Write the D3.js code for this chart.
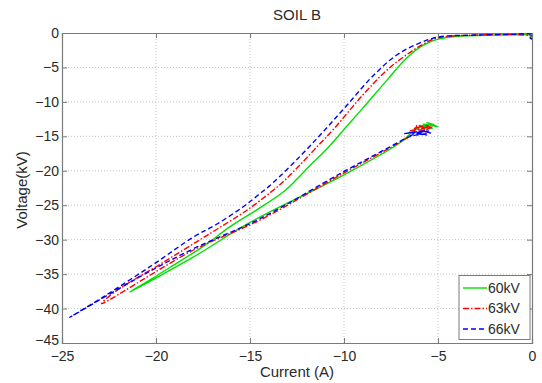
<!DOCTYPE html>
<html><head><meta charset="utf-8">
<script src="https://cdn.jsdelivr.net/npm/d3@7"></script>
<style>body{margin:0;background:#fff}svg{display:block}text{font-family:"Liberation Sans",Arial,sans-serif;fill:#2a2a2a}</style>
</head><body><svg id="c" width="542" height="383"></svg>
<script>
const title = "SOIL B";
const xLabel = "Current (A)";
const yLabel = "Voltage(kV)";
const xTicks = [-25,-20,-15,-10,-5,0];
const yTicks = [0,-5,-10,-15,-20,-25,-30,-35,-40,-45];
const seriesNames = ["60kV","63kV","66kV"];

// 60kV : cluster -> lower branch -> tip -> upper branch
const current60 = [-5.2,-5.6,-5.0,-5.8,-5.3,-6.0,-5.5,-6.2,-7.0,-10.0,-15.0,-18.0,-21.4,-20.3,-19.25,-17.5,-16.0,-14.6,-13.2,-12.5,-11.8,-10.9,-10.0,-9.0,-7.7,-6.65,-5.8,-5.0,-4.0,-2.0,-0.5,-0.1,0.0];
const voltage60 = [-13.3,-13.0,-13.6,-13.2,-13.9,-13.5,-13.4,-14.0,-15.9,-20.6,-27.5,-32.5,-37.6,-35.8,-34.0,-31.0,-28.0,-25.6,-23.0,-21.2,-19.2,-16.8,-14.0,-10.9,-6.8,-3.6,-1.8,-0.9,-0.5,-0.3,-0.25,-0.3,-1.0];

const current63 = [-6.5,-5.3,-6.0,-5.5,-6.3,-5.6,-6.1,-6.3,-7.0,-10.0,-14.5,-18.0,-22.9,-22.2,-19.8,-17.3,-15.2,-14.5,-13.4,-12.5,-11.6,-10.5,-9.0,-7.55,-5.9,-5.0,-3.0,-1.0,0.0];
const voltage63 = [-14.2,-13.6,-14.4,-13.5,-13.9,-14.1,-13.4,-14.5,-15.8,-20.3,-27.2,-31.5,-39.3,-37.6,-33.6,-29.4,-25.8,-24.4,-22.0,-19.6,-17.0,-13.8,-9.0,-5.0,-1.8,-0.7,-0.3,-0.2,-0.4];

const current66 = [-6.8,-5.5,-6.5,-5.4,-6.2,-5.6,-6.6,-6.3,-7.0,-10.0,-14.5,-18.0,-21.0,-24.6,-22.8,-20.2,-18.0,-16.8,-15.4,-14.6,-13.8,-12.3,-11.0,-9.85,-8.45,-7.2,-6.1,-5.0,-3.0,-1.0,-0.4,0.0,-0.1,0.0];
const voltage66 = [-14.6,-14.2,-14.9,-14.5,-14.3,-14.8,-14.4,-14.6,-15.7,-20.1,-27.0,-31.3,-35.6,-41.3,-38.3,-33.7,-29.6,-27.8,-25.3,-23.6,-21.8,-17.8,-14.0,-10.5,-6.2,-3.2,-1.6,-0.6,-0.3,-0.2,-0.1,-0.2,-0.7,-0.9];

const colors = ["#00e000","#ff0000","#0000ff"];
const dashes = [null,"6,2,1.5,2","5,3"];

const svg = d3.select("#c");
const L=62,R=532,T=33,B=343;
const x = d3.scaleLinear().domain([-25,0]).range([L,R]);
const y = d3.scaleLinear().domain([-45,0]).range([B,T]);

// grid
const g = svg.append("g");
g.selectAll(".gx").data(xTicks.slice(1,-1)).enter().append("line")
 .attr("x1",d=>x(d)).attr("x2",d=>x(d)).attr("y1",T).attr("y2",B)
 .attr("stroke","#c4c4c4").attr("stroke-dasharray","1,2");
g.selectAll(".gy").data(yTicks.slice(1,-1)).enter().append("line")
 .attr("y1",d=>y(d)).attr("y2",d=>y(d)).attr("x1",L).attr("x2",R)
 .attr("stroke","#c4c4c4").attr("stroke-dasharray","1,2");

// axes
const axB = d3.axisBottom(x).tickValues(xTicks).tickSize(-5).tickPadding(8).tickFormat(d3.format("d"));
const axL = d3.axisLeft(y).tickValues(yTicks).tickSize(-5).tickPadding(3).tickFormat(d3.format("d"));
const axT = d3.axisTop(x).tickValues(xTicks).tickSize(-5).tickFormat("");
const axR = d3.axisRight(y).tickValues(yTicks).tickSize(-5).tickFormat("");
function style(sel){sel.selectAll("path,line").attr("stroke","#7a7a7a");sel.selectAll("text").attr("fill","#2a2a2a").style("font-size","14px").style("font-family","'Liberation Sans',Arial,sans-serif");}
svg.append("g").attr("transform",`translate(0,${B})`).call(axB).call(style);
const gl = svg.append("g").attr("transform",`translate(${L},0)`).call(axL).call(style);
gl.selectAll(".tick text").filter(d=>d===-45).attr("dy","0.1em");
svg.append("g").attr("transform",`translate(0,${T})`).call(axT).call(style);
svg.append("g").attr("transform",`translate(${R},0)`).call(axR).call(style);
svg.selectAll(".domain").attr("stroke-width",1.2);

// series
const seriesX=[current60,current63,current66], seriesY=[voltage60,voltage63,voltage66];
const line = d3.line().x(d=>x(d[0])).y(d=>y(d[1])).curve(d3.curveCatmullRom.alpha(0.5));
seriesNames.forEach((n,i)=>{
  const pts = seriesX[i].map((v,k)=>[v,seriesY[i][k]]);
  svg.append("path").datum(pts).attr("d",line).attr("fill","none")
    .attr("stroke",colors[i]).attr("stroke-width",1.4)
    .attr("stroke-dasharray",dashes[i]);
});

// title & labels
svg.append("text").attr("x",297).attr("y",20).attr("text-anchor","middle").style("font-size","15px").text(title);
svg.append("text").attr("x",297).attr("y",377).attr("text-anchor","middle").style("font-size","15px").text(xLabel);
svg.append("text").attr("transform","translate(27,190) rotate(-90)").attr("text-anchor","middle").style("font-size","15px").text(yLabel);

// legend
const lg = svg.append("g");
lg.append("rect").attr("x",459).attr("y",275.5).attr("width",71).attr("height",64)
  .attr("fill","#fff").attr("stroke","#7a7a7a");
seriesNames.forEach((n,i)=>{
  const yy = 288 + i*20.5;
  lg.append("line").attr("x1",463).attr("x2",487).attr("y1",yy).attr("y2",yy)
    .attr("stroke",colors[i]).attr("stroke-width",1.4).attr("stroke-dasharray",dashes[i]);
  lg.append("text").attr("x",488).attr("y",yy).attr("dy","0.35em").style("font-size","14px").text(n);
});
</script></body></html>
